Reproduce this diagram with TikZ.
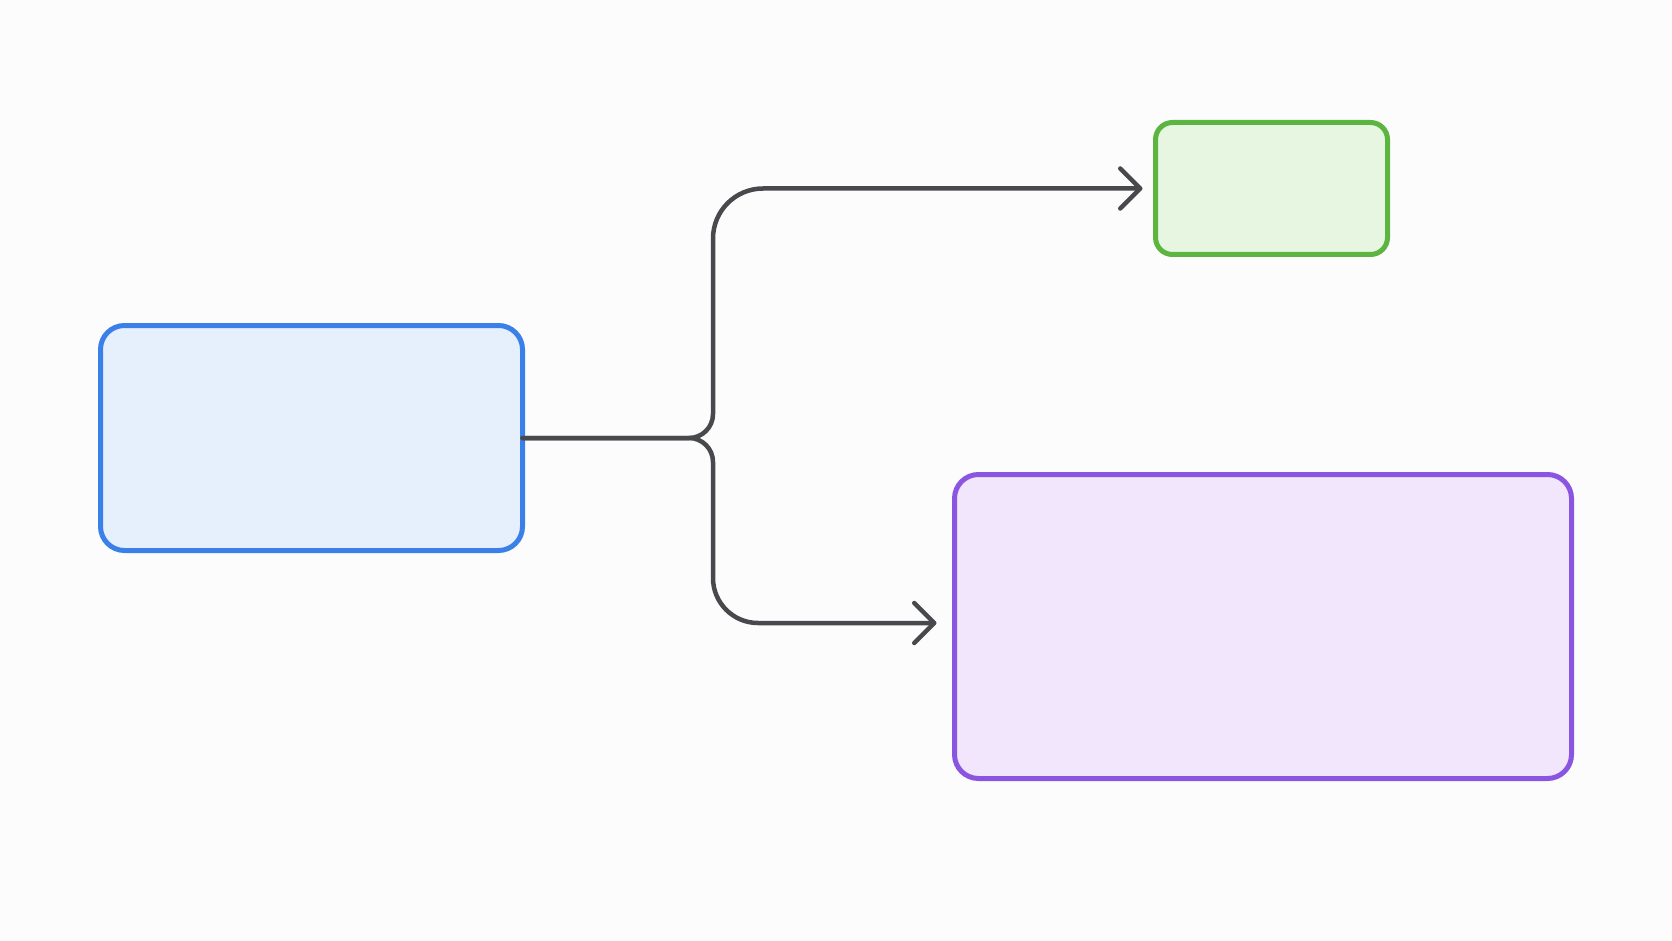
\documentclass[tikz,border=0pt]{standalone}
\usetikzlibrary{arrows.meta,calc}
\definecolor{bg}{HTML}{FCFCFC}
\definecolor{bluestroke}{HTML}{3B7FE8}
\definecolor{bluefill}{HTML}{E6F0FC}
\definecolor{greenstroke}{HTML}{5BB540}
\definecolor{greenfill}{HTML}{E6F6E0}
\definecolor{purplestroke}{HTML}{8A55E0}
\definecolor{purplefill}{HTML}{F1E6FC}
\definecolor{connc}{HTML}{48494D}
\begin{document}
\begin{tikzpicture}[x=1pt,y=-1pt,
  boxstyle/.style={draw, line width=5pt, rectangle, inner sep=0pt, outer sep=0pt},
  conn/.style={draw=connc, line width=4.5pt, line cap=round, line join=round,
    -{Straight Barb[length=20pt,width=40pt,round]}}]
\fill[bg] (0,0) rectangle (1672,941);
\useasboundingbox (0,0) rectangle (1672,941);
\node[boxstyle, draw=bluestroke, fill=bluefill, rounded corners=24pt,
  minimum width=422pt, minimum height=225pt] (blue) at (311.5,438) {};
\node[boxstyle, draw=greenstroke, fill=greenfill, rounded corners=17pt,
  minimum width=232pt, minimum height=132pt] (green) at (1271.5,188.5) {};
\node[boxstyle, draw=purplestroke, fill=purplefill, rounded corners=24pt,
  minimum width=617pt, minimum height=304pt] (purple) at (1263,626.5) {};
\coordinate (j) at (713,438);
\coordinate (pin) at ($(purple.west)+(0,-3.5)$);
\draw[conn, shorten >=13pt, rounded corners=24pt] (blue.east) -- (j) [rounded corners=50pt] |- (green.west);
\draw[conn, shorten >=18pt, rounded corners=24pt] (blue.east) -- (j) [rounded corners=45pt] |- (pin);
\end{tikzpicture}
\end{document}
